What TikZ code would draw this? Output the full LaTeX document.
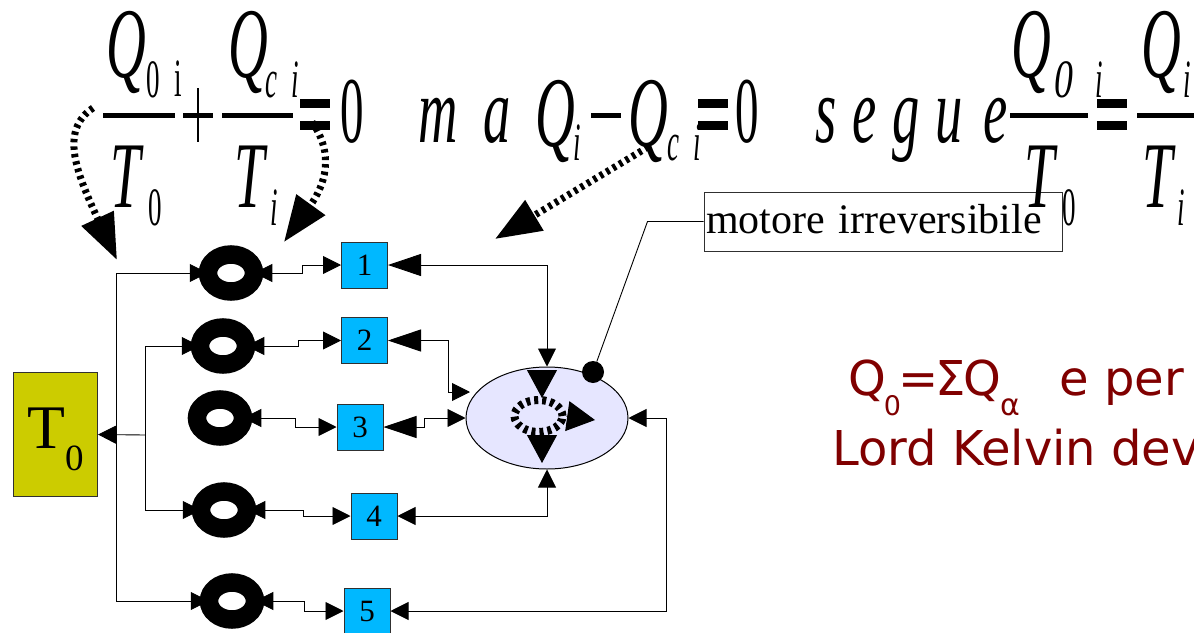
\documentclass[tikz,border=0pt]{standalone}
\usepackage{fontspec}
\setmainfont{Liberation Serif}
\newfontfamily\verafont{DejaVu Sans}
\usetikzlibrary{arrows.meta, shapes.geometric, backgrounds}
\definecolor{cblue}{HTML}{00B8FF}
\definecolor{cyellow}{HTML}{CCCC00}
\definecolor{clilac}{HTML}{E6E6FF}
\definecolor{cred}{HTML}{800000}
\definecolor{cgrey}{HTML}{303030}
\newcommand{\tallbox}[2][.58]{\scalebox{#1}[1]{#2}}
\tikzset{
  glyph/.style={anchor=base west, inner sep=0pt, outer sep=0pt, font=\fontsize{94}{94}\selectfont},
  capq/.style={anchor=base west, inner sep=0pt, outer sep=0pt, font=\fontsize{100}{100}\selectfont},
  subglyph/.style={anchor=base west, inner sep=0pt, outer sep=0pt, font=\fontsize{54}{54}\selectfont},
  bar/.style={line width=5pt},
  unit/.style={draw=cgrey, fill=cblue, line width=1pt, minimum width=46pt, minimum height=46pt, inner sep=0pt, font=\fontsize{31}{31}\selectfont},
  ring/.style={ellipse, draw=black, fill=white, line width=18.5pt, minimum width=46pt, minimum height=37pt, inner sep=0pt},
  link/.style={draw=black, line width=.9pt},
  small/.style={link, {Triangle[length=18pt,width=18pt]}-{Triangle[length=18pt,width=18pt]}},
  large/.style={link, {Triangle[length=33pt,width=22pt]}-{Triangle[length=18pt,width=18pt]}},
  fat/.style={line width=7pt, black, dash pattern=on 3.5pt off 4pt, -{Triangle[length=46pt,width=34pt]}},
  inner/.style={line width=1pt, -{Triangle[length=28pt,width=30pt]}},
}

\begin{document}
\begin{tikzpicture}[x=1pt, y=-1pt]
  \useasboundingbox (0,0) rectangle (1194,632);

  \node[draw=cgrey, fill=cyellow, line width=1pt, minimum width=84pt, minimum height=124pt, inner sep=0pt] (T0) at (55.5,434.5) {};
  \node[anchor=base west, inner sep=0pt, font=\fontsize{62}{62}\selectfont] (T0t) at (27,448) {T\raisebox{-22pt}{\fontsize{37}{37}\selectfont 0}};

  \node[ring] (R1) at (231,273) {};
  \node[ring] (R2) at (223,346) {};
  \node[ring] (R3) at (220,418) {};
  \node[ring] (R4) at (224,510) {};
  \node[ring] (R5) at (232,601) {};

  \node[unit] (U1) at (364.5,265) {1};
  \node[unit] (U2) at (364.5,340.5) {2};
  \node[unit] (U3) at (360,427) {3};
  \node[unit] (U4) at (374,516) {4};
  \node[unit] (U5) at (367,611) {5};

  \node[ellipse, draw=black, fill=clilac, line width=1pt, minimum width=162pt, minimum height=102pt, inner sep=0pt] (E) at (547,418) {};
  \node[ellipse, draw=black, line width=8pt, dash pattern=on 4pt off 4pt, minimum width=48pt, minimum height=32pt, inner sep=0pt] (loop) at (538.5,416) {};
  \draw[inner] (542,370) -- (542,398);
  \draw[inner] (542,435) -- (542,463);
  \draw[inner] (loop.east) -- (595,420);

  \node[circle, fill=black, minimum size=22pt, inner sep=0pt] (dot) at (593,372) {};
  \node[draw=cgrey, line width=1pt, minimum height=59pt, text width=354pt, inner xsep=2pt, inner ysep=0pt, font=\fontsize{42}{42}\selectfont] (L) at (883,221.5) {\raisebox{5pt}{motore irreversibile}};

  \coordinate (busA) at (116,435);
  \coordinate (busB) at (145,435);
  \coordinate (inB) at (470,392);

  \begin{scope}[on background layer]
    \draw[link, -{Triangle[length=18pt,width=18pt]}] (busB) -- (T0.east);
    \draw[link, -{Triangle[length=18pt,width=18pt]}, shorten >=-9pt] (busA) |- (R1.west);
    \draw[link, -{Triangle[length=18pt,width=18pt]}, shorten >=-9pt] (busA) |- (R5.west);
    \draw[link, -{Triangle[length=18pt,width=18pt]}, shorten >=-9pt] (busB) |- (R2.west);
    \draw[link, -{Triangle[length=18pt,width=18pt]}, shorten >=-9pt] (busB) |- (R4.west);
    \draw[small, shorten <=-9pt] (R1.east) -- ++(39,0) |- (U1.west);
    \draw[small, shorten <=-9pt] (R2.east) -- ++(43,0) |- (U2.west);
    \draw[small, shorten <=-9pt] (R3.east) -- ++(43,0) |- (U3.west);
    \draw[small, shorten <=-9pt] (R4.east) -- ++(47,0) |- (U4.west);
    \draw[small, shorten <=-9pt] (R5.east) -- ++(40,0) |- (U5.west);
    \draw[large] (U1.east) -| (E.north);
    \draw[large] (U2.east) -- ++(60,0) |- (inB);
    \draw[large] (U3.east) -- ++(41,0) |- (E.west);
    \draw[small] (U4.east) -| (E.south);
    \draw[small] (U5.east) -- ++(276,0) |- (E.east);
    \draw[link] (L.west) -- ++(-56,0) -- (dot);
  \end{scope}

  \foreach \xa/\xb in {103/175,183/213,222/293,591/621,1010/1088,1137/1194}
    \draw[bar] (\xa,115.5) -- (\xb,115.5);
  \draw[line width=2.5pt] (198,88) -- (198,142);
  \foreach \xa in {300,698,1097} {
    \fill (\xa,99) rectangle ++(30,9);
    \fill (\xa,121) rectangle ++(30,9);
  }

  \foreach \xa/\ya [count=\i] in {106/77,228/77,535/146,628/146,1011/77,1141/77}
    \node[capq] (capq\i) at (\xa,\ya) {\tallbox[.55]{\itshape Q}};
  \foreach \xa/\ya/\txt [count=\i] in {110/207/T,234/207/T,1024/207/T,1142/207/T,418/142/m,483/142/a,815/142/s,852/142/e,892/142/g,935/142/u,983/142/e}
    \node[glyph] (big\i) at (\xa,\ya) {\tallbox{\itshape\txt}};
  \foreach \xa/\ya [count=\i] in {340/142,735/142}
    \node[glyph] (zero\i) at (\xa,\ya) {\tallbox[.5]{0}};
  \foreach \xa/\ya/\txt [count=\i] in {265/97/c,291/97/i,270/225/i,573/160/i,667/160/c,693/160/i,1095/97/i,1183/97/i,1177/225/i}
    \node[subglyph] (sub\i) at (\xa,\ya) {\tallbox[.5]{\itshape\txt}};
  \node[subglyph] (sub0) at (1054,97) {\tallbox[.7]{\itshape 0}};
  \foreach \xa/\ya/\txt [count=\i] in {146/97/0,174/96/i,148/225/0,1062/225/0}
    \node[subglyph] (low\i) at (\xa,\ya) {\tallbox[.5]{\txt}};

  \coordinate (a1) at (93,108);
  \coordinate (b1) at (312,122);
  \coordinate (c1) at (648,147);
  \coordinate (c2) at (495,239);
  \coordinate (a3) at (117,260);
  \coordinate (b3) at (284,242);
  \draw[fat] (a1) .. controls (60,130) and (75,170) .. (a3);
  \draw[fat] (b1) .. controls (335,155) and (325,185) .. (b3);
  \draw[fat] (c1) -- (c2);

  \node[anchor=base west, inner sep=0pt, text=cred, font=\verafont\fontsize{48}{48}\selectfont] (Qtext) at (848,395) {Q\kern-2pt\raisebox{-20pt}{\fontsize{27}{27}\selectfont 0}\kern-3pt=\kern-3pt Σ\kern-2pt Q\kern-1pt\raisebox{-20pt}{\fontsize{30}{30}\selectfont α}\hspace{39pt}e per};
  \node[anchor=base west, inner sep=0pt, text=cred, font=\verafont\fontsize{48}{48}\selectfont] (Ktext) at (832,465) {Lord Kelvin deve};
\end{tikzpicture}
\end{document}
